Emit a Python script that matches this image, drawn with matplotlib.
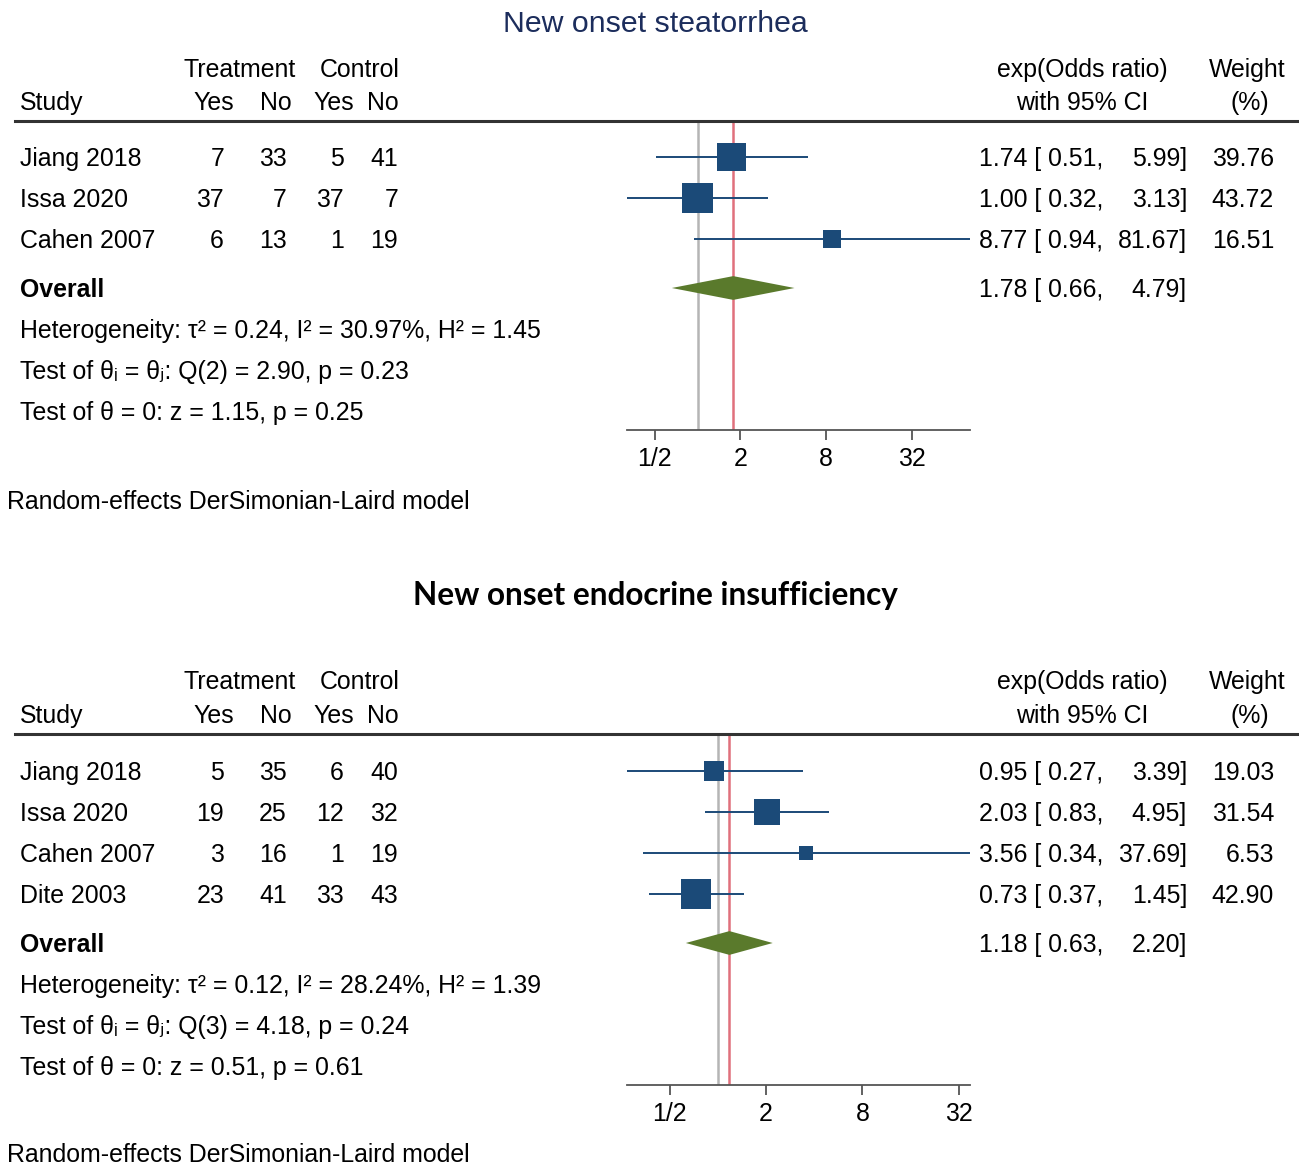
import matplotlib
matplotlib.use("Agg")
import matplotlib.pyplot as plt
import numpy as np

plt.rcParams['font.family'] = ['Liberation Sans', 'DejaVu Sans']

# --- data: steatorrhea
st_studies = ["Jiang 2018", "Issa 2020", "Cahen 2007"]
st_treat_yes = [7, 37, 6]
st_treat_no = [33, 7, 13]
st_ctrl_yes = [5, 37, 1]
st_ctrl_no = [41, 7, 19]
st_or = [1.74, 1.00, 8.77]
st_lo = [0.51, 0.32, 0.94]
st_hi = [5.99, 3.13, 81.67]
st_weight = [39.76, 43.72, 16.51]
st_overall = (1.78, 0.66, 4.79)
st_stats = ["Heterogeneity: τ² = 0.24, I² = 30.97%, H² = 1.45",
            "Test of θᵢ = θⱼ: Q(2) = 2.90, p = 0.23",
            "Test of θ = 0: z = 1.15, p = 0.25"]

# --- data: endocrine insufficiency
en_studies = ["Jiang 2018", "Issa 2020", "Cahen 2007", "Dite 2003"]
en_treat_yes = [5, 19, 3, 23]
en_treat_no = [35, 25, 16, 41]
en_ctrl_yes = [6, 12, 1, 33]
en_ctrl_no = [40, 32, 19, 43]
en_or = [0.95, 2.03, 3.56, 0.73]
en_lo = [0.27, 0.83, 0.34, 0.37]
en_hi = [3.39, 4.95, 37.69, 1.45]
en_weight = [19.03, 31.54, 6.53, 42.90]
en_overall = (1.18, 0.63, 2.20)
en_stats = ["Heterogeneity: τ² = 0.12, I² = 28.24%, H² = 1.39",
            "Test of θᵢ = θⱼ: Q(3) = 4.18, p = 0.24",
            "Test of θ = 0: z = 0.51, p = 0.61"]

tick_vals = [0.5, 2, 8, 32]
tick_labels = ["1/2", "2", "8", "32"]

W, H = 1299, 1165
fig = plt.figure(figsize=(W / 100, H / 100), dpi=100)
FS = 17.9
BLUE = '#1b4a78'
GREEN = '#5a7a2c'
ROW = 41


def fx(px):
    return px / W


def fy(py):
    return 1 - py / H


def txt(x, y, s, ha='left', **kw):
    kw.setdefault('fontsize', FS)
    fig.text(fx(x), fy(y + 2), s, ha=ha, va='center', **kw)


def panel(title, title_kw, studies, ty, tn, cy, cn, est, lo, hi, wt, overall, stats,
          t_y, h1, h2, line_y, y0, axis_y, foot_y):
    txt(655, t_y, title, ha='center', **title_kw)
    # headers
    txt(240, h1, "Treatment", ha='center')
    txt(360, h1, "Control", ha='center')
    txt(1082, h1, "exp(Odds ratio)", ha='center')
    txt(1247, h1, "Weight", ha='center')
    txt(20, h2, "Study")
    txt(234, h2, "Yes", ha='right')
    txt(292, h2, "No", ha='right')
    txt(354, h2, "Yes", ha='right')
    txt(399, h2, "No", ha='right')
    txt(1082, h2, "with 95% CI", ha='center')
    txt(1250, h2, "(%)", ha='center')
    fig.add_artist(plt.Line2D([fx(15), fx(1297)], [fy(line_y), fy(line_y)],
                              color='#333333', lw=2.2))
    n = len(studies)
    for i in range(n):
        y = y0 + ROW * i
        txt(20, y, studies[i])
        txt(224, y, str(ty[i]), ha='right')
        txt(287, y, str(tn[i]), ha='right')
        txt(344, y, str(cy[i]), ha='right')
        txt(398, y, str(cn[i]), ha='right')
        txt(979, y, f"{est[i]:.2f} [ {lo[i]:.2f},")
        txt(1187, y, f"{hi[i]:.2f}]", ha='right')
        txt(1274, y, f"{wt[i]:.2f}", ha='right')
    oy = y0 + ROW * (n - 1) + 49
    txt(20, oy, "Overall", fontweight='bold')
    txt(979, oy, f"{overall[0]:.2f} [ {overall[1]:.2f},")
    txt(1187, oy, f"{overall[2]:.2f}]", ha='right')
    for k, s in enumerate(stats):
        txt(20, oy + ROW * (k + 1), s)
    txt(7, foot_y, "Random-effects DerSimonian-Laird model")

    # forest axes
    ax = fig.add_axes([fx(627), fy(axis_y), fx(970) - fx(627), (axis_y - line_y - 1) / H])
    ax.set_xscale('log', base=2)
    ax.set_xlim(min(lo), max(hi))
    ax.set_ylim((axis_y - y0) / ROW, (line_y + 1 - y0) / ROW)
    rows = np.arange(n)
    o_row = (oy - y0) / ROW
    ax.axvline(1, color='#b5b5b5', lw=1.8, zorder=1)
    ax.axvline(overall[0], color='#e0707c', lw=1.8, zorder=1)
    ax.hlines(rows, lo, hi, color=BLUE, lw=1.4, zorder=2)
    sizes = np.maximum(np.array(wt) * 10.7, 100)
    ax.scatter(est, rows, marker='s', s=sizes, color=BLUE, zorder=3, linewidths=0)
    dh = 0.29
    ax.fill([overall[1], overall[0], overall[2], overall[0]],
            [o_row, o_row - dh, o_row, o_row + dh], color=GREEN, lw=0, zorder=3)
    for sp in ['top', 'left', 'right']:
        ax.spines[sp].set_visible(False)
    ax.spines['bottom'].set_color('#555555')
    ax.spines['bottom'].set_linewidth(1.3)
    ax.set_yticks([])
    ax.set_xticks(tick_vals)
    ax.set_xticklabels(tick_labels)
    ax.minorticks_off()
    ax.tick_params(axis='x', direction='out', length=7, width=1.3, color='#555555',
                   labelsize=FS, pad=5)
    ax.patch.set_alpha(0)


panel("New onset steatorrhea", dict(fontsize=21.8, color='#1c2d5c'),
      st_studies, st_treat_yes, st_treat_no, st_ctrl_yes, st_ctrl_no,
      st_or, st_lo, st_hi, st_weight, st_overall, st_stats,
      22, 68, 101, 121, 157, 430, 500)

panel("New onset endocrine insufficiency",
      dict(fontsize=22.7, fontweight='bold', color='black', family=['Lato', 'DejaVu Sans']),
      en_studies, en_treat_yes, en_treat_no, en_ctrl_yes, en_ctrl_no,
      en_or, en_lo, en_hi, en_weight, en_overall, en_stats,
      594, 680, 714, 734, 771, 1085, 1153)

fig.savefig("out.png", dpi=100, facecolor='white')
